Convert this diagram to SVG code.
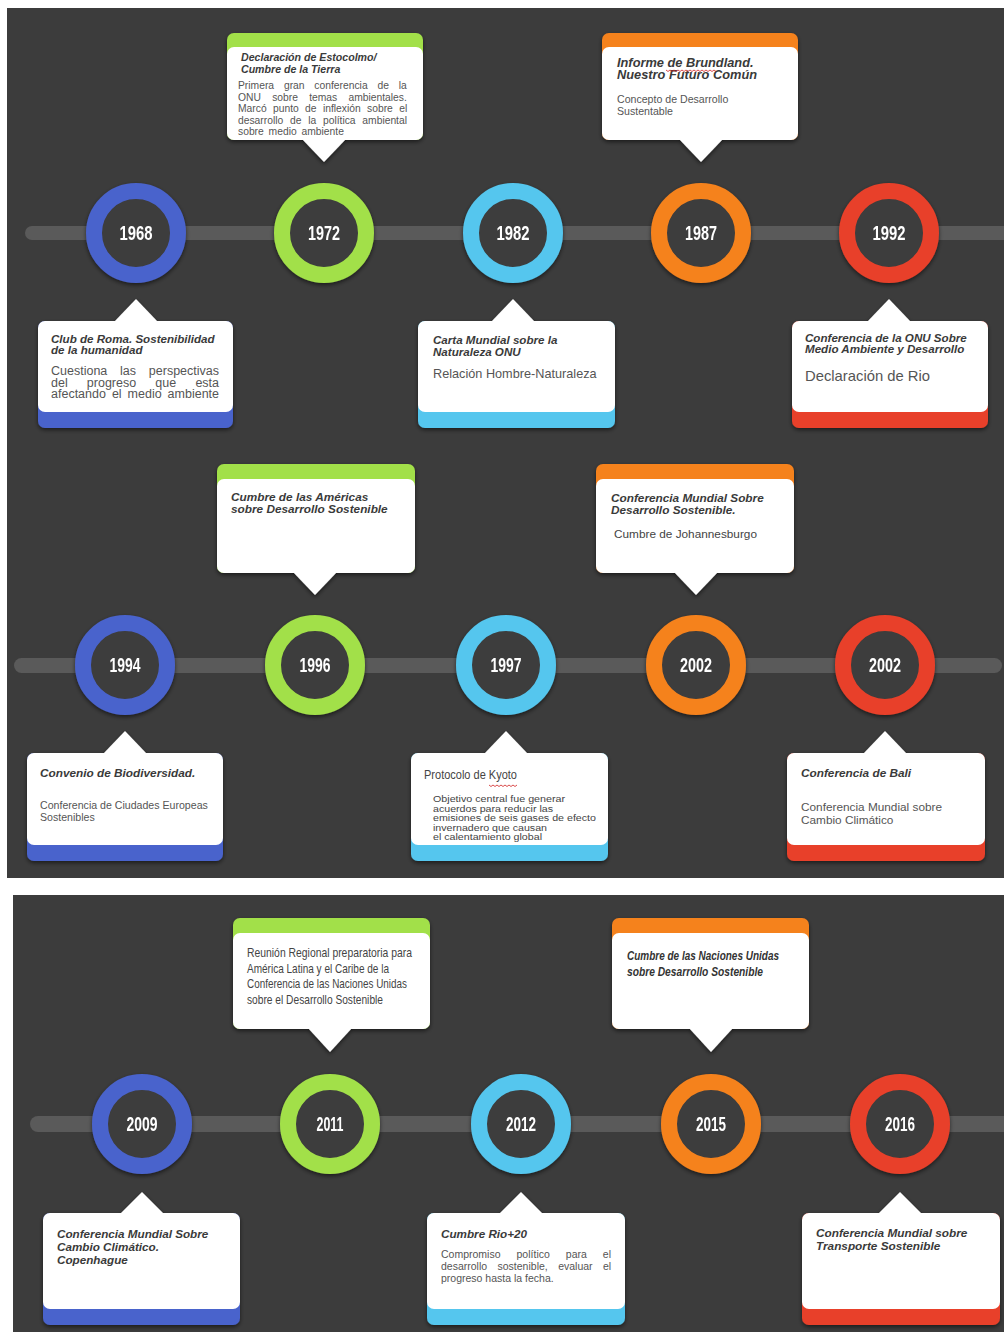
<svg xmlns="http://www.w3.org/2000/svg" width="1004" height="1332" viewBox="0 0 1004 1332">
<defs>
<filter id="sh" x="-20%" y="-20%" width="140%" height="150%">
<feDropShadow dx="0" dy="2" stdDeviation="2" flood-color="#000" flood-opacity="0.55"/>
</filter>
<style>
.panel{fill:#3c3c3c}
.track{fill:#5a5a5a}
.ring{fill:#3c3c3c;stroke-width:16}
.yr{font-family:"Liberation Sans",Arial,sans-serif;font-weight:bold;font-size:19.5px;fill:#fff;text-anchor:middle}
.w{fill:#fff}
.ti{font-family:"Liberation Sans",Arial,sans-serif;font-weight:bold;font-style:italic;fill:#3a3a3a}
.bd{font-family:"Liberation Sans",Arial,sans-serif;fill:#555}
.cn{font-family:"Liberation Sans",Arial,sans-serif;fill:#444}
.sq{fill:none;stroke:#d02020;stroke-width:0.8}
</style>
</defs>
<rect width="1004" height="1332" fill="#ffffff"/>
<rect class="panel" x="7" y="8" width="997" height="870"/>
<rect class="panel" x="13" y="895" width="991" height="437"/>

<g id="connectors">
<rect class="track" x="25" y="226" width="990" height="14" rx="7"/>
<rect class="track" x="14" y="658" width="988" height="15" rx="7.5"/>
<rect class="track" x="30" y="1116" width="985" height="16" rx="8"/>
</g>

<!-- Timeline 1 circles -->
<g id="n1968" filter="url(#sh)"><circle cx="136" cy="233" r="42" class="ring" style="stroke:#4a63cc"/><text class="yr" x="136" y="240" textLength="33" lengthAdjust="spacingAndGlyphs">1968</text></g>
<g id="n1972" filter="url(#sh)"><circle cx="324" cy="233" r="42" class="ring" style="stroke:#a2e04a"/><text class="yr" x="324" y="240" textLength="32" lengthAdjust="spacingAndGlyphs">1972</text></g>
<g id="n1982" filter="url(#sh)"><circle cx="513" cy="233" r="42" class="ring" style="stroke:#55c6ee"/><text class="yr" x="513" y="240" textLength="33" lengthAdjust="spacingAndGlyphs">1982</text></g>
<g id="n1987" filter="url(#sh)"><circle cx="701" cy="233" r="42" class="ring" style="stroke:#f5821f"/><text class="yr" x="701" y="240" textLength="32" lengthAdjust="spacingAndGlyphs">1987</text></g>
<g id="n1992" filter="url(#sh)"><circle cx="889" cy="233" r="42" class="ring" style="stroke:#e8402a"/><text class="yr" x="889" y="240" textLength="33" lengthAdjust="spacingAndGlyphs">1992</text></g>

<!-- Timeline 2 circles -->
<g id="n1994" filter="url(#sh)"><circle cx="125" cy="665" r="42" class="ring" style="stroke:#4a63cc"/><text class="yr" x="125" y="672" textLength="31" lengthAdjust="spacingAndGlyphs">1994</text></g>
<g id="n1996" filter="url(#sh)"><circle cx="315" cy="665" r="42" class="ring" style="stroke:#a2e04a"/><text class="yr" x="315" y="672" textLength="31" lengthAdjust="spacingAndGlyphs">1996</text></g>
<g id="n1997" filter="url(#sh)"><circle cx="506" cy="665" r="42" class="ring" style="stroke:#55c6ee"/><text class="yr" x="506" y="672" textLength="31" lengthAdjust="spacingAndGlyphs">1997</text></g>
<g id="n2002a" filter="url(#sh)"><circle cx="696" cy="665" r="42" class="ring" style="stroke:#f5821f"/><text class="yr" x="696" y="672" textLength="32" lengthAdjust="spacingAndGlyphs">2002</text></g>
<g id="n2002b" filter="url(#sh)"><circle cx="885" cy="665" r="42" class="ring" style="stroke:#e8402a"/><text class="yr" x="885" y="672" textLength="32" lengthAdjust="spacingAndGlyphs">2002</text></g>

<!-- Timeline 3 circles -->
<g id="n2009" filter="url(#sh)"><circle cx="142" cy="1124" r="42" class="ring" style="stroke:#4a63cc"/><text class="yr" x="142" y="1131" textLength="31" lengthAdjust="spacingAndGlyphs">2009</text></g>
<g id="n2011" filter="url(#sh)"><circle cx="330" cy="1124" r="42" class="ring" style="stroke:#a2e04a"/><text class="yr" x="330" y="1131" textLength="27" lengthAdjust="spacingAndGlyphs">2011</text></g>
<g id="n2012" filter="url(#sh)"><circle cx="521" cy="1124" r="42" class="ring" style="stroke:#55c6ee"/><text class="yr" x="521" y="1131" textLength="30" lengthAdjust="spacingAndGlyphs">2012</text></g>
<g id="n2015" filter="url(#sh)"><circle cx="711" cy="1124" r="42" class="ring" style="stroke:#f5821f"/><text class="yr" x="711" y="1131" textLength="30" lengthAdjust="spacingAndGlyphs">2015</text></g>
<g id="n2016" filter="url(#sh)"><circle cx="900" cy="1124" r="42" class="ring" style="stroke:#e8402a"/><text class="yr" x="900" y="1131" textLength="30" lengthAdjust="spacingAndGlyphs">2016</text></g>

<!-- ===== Boxes timeline 1 ===== -->
<g id="b1972">
<g filter="url(#sh)">
<rect x="227" y="33" width="196" height="107" rx="7" fill="#a2e04a"/>
<rect x="227" y="47" width="196" height="93" rx="7" class="w"/>
<polygon points="302,139 346,139 324,162" class="w"/>
</g>
<text class="ti" font-size="10.6"><tspan x="241" y="61">Declaración de Estocolmo/</tspan><tspan x="241" y="73">Cumbre de la Tierra</tspan></text>
<g class="bd" font-size="10.3">
<text x="238" y="89" word-spacing="7">Primera gran conferencia de la</text>
<text x="238" y="100.5" word-spacing="8.4">ONU sobre temas ambientales.</text>
<text x="238" y="112" word-spacing="3.5">Marcó punto de inflexión sobre el</text>
<text x="238" y="123.5" word-spacing="3.9">desarrollo de la política ambiental</text>
<text x="238" y="135" word-spacing="2">sobre  medio ambiente</text>
</g>
</g>

<g id="b1987">
<g filter="url(#sh)">
<rect x="602" y="33" width="196" height="107" rx="7" fill="#f5821f"/>
<rect x="602" y="47" width="196" height="93" rx="7" class="w"/>
<polygon points="679,139 723,139 701,162" class="w"/>
</g>
<text class="ti" font-size="12.8"><tspan x="617" y="66.5">Informe de Brundland.</tspan><tspan x="617" y="79">Nuestro Futuro Común</tspan></text>
<path class="sq" d="M666,70 l2,1.5 l2,-1.5 l2,1.5 l2,-1.5 l2,1.5 l2,-1.5 l2,1.5 l2,-1.5 l2,1.5 l2,-1.5 l2,1.5 l2,-1.5 l2,1.5 l2,-1.5 l2,1.5 l2,-1.5 l2,1.5 l2,-1.5 l2,1.5 l2,-1.5 l2,1.5 l2,-1.5 l2,1.5 l2,-1.5 l2,1.5"/>
<text class="bd" font-size="10.6"><tspan x="617" y="103">Concepto de Desarrollo</tspan><tspan x="617" y="114.5">Sustentable</tspan></text>
</g>

<g id="b1968">
<g filter="url(#sh)">
<rect x="38" y="321" width="195" height="107" rx="7" fill="#4a63cc"/>
<rect x="38" y="321" width="195" height="91" rx="7" class="w"/>
<polygon points="114,322 158,322 136,299" class="w"/>
</g>
<text class="ti" font-size="11.6"><tspan x="51" y="342.5">Club de Roma. Sostenibilidad</tspan><tspan x="51" y="353.5">de la humanidad</tspan></text>
<g class="bd" font-size="12.5">
<text x="51" y="375" word-spacing="9.3">Cuestiona las perspectivas</text>
<text x="51" y="386.5" word-spacing="15.7">del progreso que esta</text>
<text x="51" y="398" word-spacing="2.5">afectando el medio ambiente</text>
</g>
</g>

<g id="b1982">
<g filter="url(#sh)">
<rect x="418" y="321" width="197" height="107" rx="7" fill="#55c6ee"/>
<rect x="418" y="321" width="197" height="91" rx="7" class="w"/>
<polygon points="491,322 535,322 513,299" class="w"/>
</g>
<text class="ti" font-size="11.6"><tspan x="433" y="344">Carta Mundial sobre la</tspan><tspan x="433" y="356">Naturaleza ONU</tspan></text>
<text class="bd" font-size="12.7" x="433" y="378">Relación Hombre-Naturaleza</text>
</g>

<g id="b1992">
<g filter="url(#sh)">
<rect x="792" y="321" width="196" height="107" rx="7" fill="#e8402a"/>
<rect x="792" y="321" width="196" height="91" rx="7" class="w"/>
<polygon points="867,322 911,322 889,299" class="w"/>
</g>
<text class="ti" font-size="11.6"><tspan x="805" y="341.5">Conferencia de la ONU Sobre</tspan><tspan x="805" y="352.5">Medio Ambiente y Desarrollo</tspan></text>
<text class="bd" font-size="14.8" x="805" y="381">Declaración de Rio</text>
</g>

<!-- ===== Boxes timeline 2 ===== -->
<g id="b1996">
<g filter="url(#sh)">
<rect x="217" y="464" width="198" height="109" rx="7" fill="#a2e04a"/>
<rect x="217" y="479" width="198" height="94" rx="7" class="w"/>
<polygon points="293,572 337,572 315,595" class="w"/>
</g>
<text class="ti" font-size="11.8"><tspan x="231" y="501">Cumbre de las Américas</tspan><tspan x="231" y="513">sobre Desarrollo Sostenible</tspan></text>
</g>

<g id="b2002a">
<g filter="url(#sh)">
<rect x="596" y="464" width="198" height="109" rx="7" fill="#f5821f"/>
<rect x="596" y="479" width="198" height="94" rx="7" class="w"/>
<polygon points="674,572 718,572 696,595" class="w"/>
</g>
<text class="ti" font-size="11.8"><tspan x="611" y="502">Conferencia Mundial Sobre</tspan><tspan x="611" y="514">Desarrollo Sostenible.</tspan></text>
<text class="bd" font-size="11.8" x="614" y="538" style="fill:#444">Cumbre de Johannesburgo</text>
</g>

<g id="b1994">
<g filter="url(#sh)">
<rect x="27" y="753" width="196" height="108" rx="7" fill="#4a63cc"/>
<rect x="27" y="753" width="196" height="92" rx="7" class="w"/>
<polygon points="103,754 147,754 125,731" class="w"/>
</g>
<text class="ti" font-size="11.8" x="40" y="777">Convenio de Biodiversidad.</text>
<text class="bd" font-size="10.6"><tspan x="40" y="809">Conferencia de Ciudades Europeas</tspan><tspan x="40" y="821">Sostenibles</tspan></text>
</g>

<g id="b1997">
<g filter="url(#sh)">
<rect x="411" y="753" width="197" height="108" rx="7" fill="#55c6ee"/>
<rect x="411" y="753" width="197" height="92" rx="7" class="w"/>
<polygon points="484,754 528,754 506,731" class="w"/>
</g>
<text class="cn" font-size="13.5" x="424" y="779" textLength="93" lengthAdjust="spacingAndGlyphs">Protocolo de Kyoto</text>
<path class="sq" d="M489,785 l2,1.5 l2,-1.5 l2,1.5 l2,-1.5 l2,1.5 l2,-1.5 l2,1.5 l2,-1.5 l2,1.5 l2,-1.5 l2,1.5 l2,-1.5 l2,1.5 l2,-1.5"/>
<g class="bd" font-size="9.6" style="fill:#444">
<text x="433" y="802" textLength="132" lengthAdjust="spacingAndGlyphs">Objetivo central fue generar</text>
<text x="433" y="811.5" textLength="120" lengthAdjust="spacingAndGlyphs">acuerdos para reducir las</text>
<text x="433" y="821" textLength="163" lengthAdjust="spacingAndGlyphs">emisiones de seis gases de efecto</text>
<text x="433" y="830.5" textLength="114" lengthAdjust="spacingAndGlyphs">invernadero que causan</text>
<text x="433" y="840" textLength="109" lengthAdjust="spacingAndGlyphs">el calentamiento global</text>
</g>
</g>

<g id="b2002b">
<g filter="url(#sh)">
<rect x="787" y="753" width="198" height="108" rx="7" fill="#e8402a"/>
<rect x="787" y="753" width="198" height="92" rx="7" class="w"/>
<polygon points="863,754 907,754 885,731" class="w"/>
</g>
<text class="ti" font-size="11.8" x="801" y="777">Conferencia de Bali</text>
<text class="bd" font-size="11.8"><tspan x="801" y="811">Conferencia Mundial sobre</tspan><tspan x="801" y="823.5">Cambio Climático</tspan></text>
</g>

<!-- ===== Boxes timeline 3 ===== -->
<g id="b2011">
<g filter="url(#sh)">
<rect x="233" y="918" width="197" height="111" rx="7" fill="#a2e04a"/>
<rect x="233" y="933" width="197" height="96" rx="7" class="w"/>
<polygon points="308,1028 352,1028 330,1052" class="w"/>
</g>
<g class="cn" font-size="13.5">
<text x="247" y="957" textLength="165" lengthAdjust="spacingAndGlyphs">Reunión Regional  preparatoria para</text>
<text x="247" y="972.5" textLength="142" lengthAdjust="spacingAndGlyphs">América Latina y el Caribe de la</text>
<text x="247" y="988" textLength="160" lengthAdjust="spacingAndGlyphs">Conferencia de las Naciones Unidas</text>
<text x="247" y="1003.5" textLength="136" lengthAdjust="spacingAndGlyphs">sobre el Desarrollo Sostenible</text>
</g>
</g>

<g id="b2015">
<g filter="url(#sh)">
<rect x="612" y="918" width="197" height="111" rx="7" fill="#f5821f"/>
<rect x="612" y="933" width="197" height="96" rx="7" class="w"/>
<polygon points="689,1028 733,1028 711,1052" class="w"/>
</g>
<g class="cn" font-size="13.5" font-weight="bold" font-style="italic" style="fill:#333">
<text x="627" y="960" textLength="152" lengthAdjust="spacingAndGlyphs">Cumbre de las Naciones Unidas</text>
<text x="627" y="976" textLength="136" lengthAdjust="spacingAndGlyphs">sobre Desarrollo Sostenible</text>
</g>
</g>

<g id="b2009">
<g filter="url(#sh)">
<rect x="43" y="1213" width="197" height="112" rx="7" fill="#4a63cc"/>
<rect x="43" y="1213" width="197" height="96" rx="7" class="w"/>
<polygon points="120,1214 164,1214 142,1192" class="w"/>
</g>
<text class="ti" font-size="11.7"><tspan x="57" y="1238">Conferencia Mundial Sobre</tspan><tspan x="57" y="1251">Cambio Climático.</tspan><tspan x="57" y="1264">Copenhague</tspan></text>
</g>

<g id="b2012">
<g filter="url(#sh)">
<rect x="427" y="1213" width="198" height="112" rx="7" fill="#55c6ee"/>
<rect x="427" y="1213" width="198" height="96" rx="7" class="w"/>
<polygon points="499,1214 543,1214 521,1192" class="w"/>
</g>
<text class="ti" font-size="11.7" x="441" y="1238">Cumbre Rio+20</text>
<g class="bd" font-size="10.5">
<text x="441" y="1258" word-spacing="13.1">Compromiso político para el</text>
<text x="441" y="1270" word-spacing="7.5">desarrollo sostenible, evaluar el</text>
<text x="441" y="1282">progreso hasta la fecha.</text>
</g>
</g>

<g id="b2016">
<g filter="url(#sh)">
<rect x="802" y="1213" width="198" height="112" rx="7" fill="#e8402a"/>
<rect x="802" y="1213" width="198" height="96" rx="7" class="w"/>
<polygon points="878,1214 922,1214 900,1192" class="w"/>
</g>
<text class="ti" font-size="11.8"><tspan x="816" y="1237">Conferencia Mundial sobre</tspan><tspan x="816" y="1250">Transporte Sostenible</tspan></text>
</g>
</svg>
